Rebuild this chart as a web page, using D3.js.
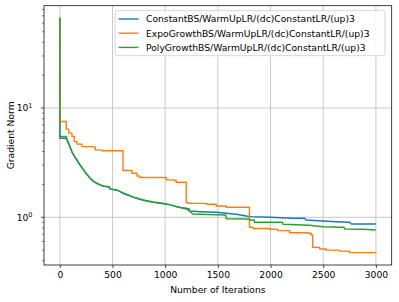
<!DOCTYPE html>
<html>
<head>
<meta charset="utf-8">
<script src="https://cdn.jsdelivr.net/npm/d3@7/dist/d3.min.js"></script>
<style>
  html, body { margin: 0; padding: 0; background: #fff; }
  svg { display: block; font-family: "DejaVu Sans", sans-serif; }
</style>
</head>
<body>
<svg id="chart" width="399" height="302"></svg>
<script>
// ---- Data ----
const seriesNames = [
  "ConstantBS/WarmUpLR/(dc)ConstantLR/(up)3",
  "ExpoGrowthBS/WarmUpLR/(dc)ConstantLR/(up)3",
  "PolyGrowthBS/WarmUpLR/(dc)ConstantLR/(up)3"
];
const seriesColors = ["#1f77b4", "#ff7f0e", "#2ca02c"];

const constantIters = [0, 1, 61, 70, 84, 100, 115, 130, 145, 163, 185, 205, 226, 250, 270, 289, 320, 352, 385, 416, 463, 479, 542, 575, 605, 650, 700, 750, 794, 840, 889, 940, 985, 1050, 1105, 1150, 1200, 1228, 1232, 1343, 1485, 1580, 1675, 1770, 1817, 1991, 2213, 2323, 2339, 2497, 2624, 2750, 2766, 3000];
const constantVals  = [67, 5.3, 5.3, 5.0, 4.7, 4.3, 3.95, 3.72, 3.52, 3.33, 3.07, 2.88, 2.7, 2.5, 2.38, 2.26, 2.13, 2.03, 1.97, 1.92, 1.89, 1.81, 1.77, 1.71, 1.65, 1.59, 1.52, 1.47, 1.43, 1.40, 1.37, 1.35, 1.33, 1.30, 1.25, 1.23, 1.21, 1.19, 1.14, 1.125, 1.11, 1.088, 1.065, 1.027, 1.013, 1.0, 0.979, 0.979, 0.945, 0.925, 0.911, 0.90, 0.868, 0.868];

const expoIters = [0, 1, 61, 84, 115, 137, 163, 210, 321, 337, 400, 600, 685, 732, 757, 1011, 1090, 1105, 1200, 1225, 1390, 1485, 1580, 1800, 1833, 1991, 2070, 2181, 2355, 2387, 2400, 2466, 2529, 2655, 2750, 3000];
const expoVals  = [67, 7.54, 6.42, 5.9, 5.49, 4.94, 4.68, 4.44, 4.39, 4.14, 4.06, 2.68, 2.53, 2.39, 2.31, 2.20, 2.17, 2.09, 1.36, 1.34, 1.316, 1.27, 1.235, 0.81, 0.79, 0.776, 0.754, 0.722, 0.713, 0.688, 0.53, 0.512, 0.50, 0.49, 0.474, 0.47];

const polyIters = [0, 1, 61, 70, 84, 100, 115, 130, 145, 163, 185, 205, 226, 250, 270, 289, 320, 352, 385, 416, 470, 479, 542, 575, 605, 650, 700, 750, 794, 840, 889, 940, 985, 1050, 1105, 1150, 1200, 1232, 1263, 1400, 1575, 1580, 1795, 1801, 1845, 1849, 2113, 2118, 2371, 2497, 2655, 2698, 2703, 2877, 3000];
const polyVals  = [67, 5.49, 5.49, 5.15, 4.77, 4.35, 4.0, 3.75, 3.55, 3.36, 3.1, 2.9, 2.72, 2.52, 2.4, 2.28, 2.15, 2.05, 1.98, 1.94, 1.91, 1.82, 1.78, 1.72, 1.66, 1.6, 1.53, 1.48, 1.44, 1.41, 1.38, 1.36, 1.34, 1.30, 1.26, 1.22, 1.19, 1.14, 1.07, 1.06, 1.05, 0.97, 0.965, 0.945, 0.945, 0.90, 0.90, 0.863, 0.845, 0.82, 0.81, 0.81, 0.78, 0.776, 0.765];

const xTickValues = [0, 500, 1000, 1500, 2000, 2500, 3000];
const yMajorTicks = [1, 10];
const yTickLabels = [["10", "0"], ["10", "1"]];
const xLabel = "Number of Iterations";
const yLabel = "Gradient Norm";

// ---- Layout ----
const FS = 9.2;
const svg = d3.select("#chart");
const L = 44, R = 391.7, T = 5.7, B = 265;
const x = d3.scaleLinear().domain([-150, 3150]).range([L, R]);
const y = d3.scaleLog().domain([0.3655, 86.6]).range([B, T]);

const series = [
  { name: seriesNames[0], color: seriesColors[0], iters: constantIters, vals: constantVals, curve: d3.curveLinear },
  { name: seriesNames[1], color: seriesColors[1], iters: expoIters, vals: expoVals, curve: d3.curveStepAfter },
  { name: seriesNames[2], color: seriesColors[2], iters: polyIters, vals: polyVals, curve: d3.curveLinear }
];

// grid
const grid = svg.append("g");
grid.selectAll("line.gx").data(xTickValues).enter().append("line")
  .attr("x1", d => x(d)).attr("x2", d => x(d)).attr("y1", T).attr("y2", B)
  .attr("stroke", "#b0b0b0").attr("stroke-opacity", 0.75).attr("stroke-width", 0.9);
grid.selectAll("line.gy").data(yMajorTicks).enter().append("line")
  .attr("x1", L).attr("x2", R).attr("y1", d => y(d)).attr("y2", d => y(d))
  .attr("stroke", "#b0b0b0").attr("stroke-opacity", 0.75).attr("stroke-width", 0.9);

// clip
svg.append("clipPath").attr("id", "clip").append("rect")
  .attr("x", L).attr("y", T).attr("width", R - L).attr("height", B - T);

const lines = svg.append("g").attr("clip-path", "url(#clip)");
series.forEach(s => {
  const pts = s.iters.map((it, i) => [it, s.vals[i]]);
  const line = d3.line().x(d => x(d[0])).y(d => y(d[1])).curve(s.curve);
  lines.append("path").datum(pts)
    .attr("d", line)
    .attr("fill", "none")
    .attr("stroke", s.color)
    .attr("stroke-width", 1.4)
    .attr("stroke-linejoin", "round");
});

// axes
const xAxis = d3.axisBottom(x).tickValues(xTickValues).tickSize(3.1).tickPadding(3).tickFormat(d3.format("d"));
const gx = svg.append("g").attr("transform", `translate(0,${B})`).call(xAxis);
gx.select(".domain").remove();
gx.selectAll("line").attr("stroke", "#000").attr("stroke-width", 0.7);
gx.selectAll("text").attr("font-size", FS).attr("fill", "#000").attr("font-family", "DejaVu Sans");

// y minor ticks
const minorTicks = [];
[0.1, 1, 10].forEach(dec => {
  for (let k = 2; k <= 9; k++) {
    const v = k * dec;
    if (v >= y.domain()[0] && v <= y.domain()[1]) minorTicks.push(v);
  }
});
const gy = svg.append("g");
gy.selectAll("line.minor").data(minorTicks).enter().append("line")
  .attr("x1", L - 1.8).attr("x2", L).attr("y1", d => y(d)).attr("y2", d => y(d))
  .attr("stroke", "#000").attr("stroke-width", 0.55);
gy.selectAll("line.major").data(yMajorTicks).enter().append("line")
  .attr("x1", L - 3.1).attr("x2", L).attr("y1", d => y(d)).attr("y2", d => y(d))
  .attr("stroke", "#000").attr("stroke-width", 0.7);
const ylab = gy.selectAll("text.tl").data(yMajorTicks).enter().append("text")
  .attr("x", L - 11.5).attr("y", d => y(d) + 3.3)
  .attr("text-anchor", "end").attr("font-size", FS).attr("fill", "#000");
ylab.each(function(d, i) {
  const t = d3.select(this);
  t.append("tspan").text(yTickLabels[i][0]);
  t.append("tspan").attr("dy", -3.7).attr("font-size", 6.5).text(yTickLabels[i][1]);
});

// spines
svg.append("rect").attr("x", L).attr("y", T).attr("width", R - L).attr("height", B - T)
  .attr("fill", "none").attr("stroke", "#000").attr("stroke-width", 0.75);

// axis labels
svg.append("text").attr("x", (L + R) / 2).attr("y", 292.5).attr("text-anchor", "middle")
  .attr("font-size", FS).attr("fill", "#000").text(xLabel);
svg.append("text").attr("transform", `translate(14,${(T + B) / 2}) rotate(-90)`)
  .attr("text-anchor", "middle").attr("font-size", FS).attr("fill", "#000").text(yLabel);

// legend
const lg = svg.append("g");
lg.append("rect").attr("x", 115).attr("y", 10.7).attr("width", 270).attr("height", 45)
  .attr("rx", 2).attr("fill", "#fff").attr("fill-opacity", 0.8)
  .attr("stroke", "#cccccc").attr("stroke-width", 0.8);
series.forEach((s, i) => {
  const yy = 19 + i * 14.2;
  lg.append("line").attr("x1", 118.5).attr("x2", 138.5).attr("y1", yy).attr("y2", yy)
    .attr("stroke", s.color).attr("stroke-width", 1.4);
  lg.append("text").attr("x", 146).attr("y", yy + 3.3).attr("font-size", FS)
    .attr("fill", "#000").text(s.name);
});
</script>
</body>
</html>
